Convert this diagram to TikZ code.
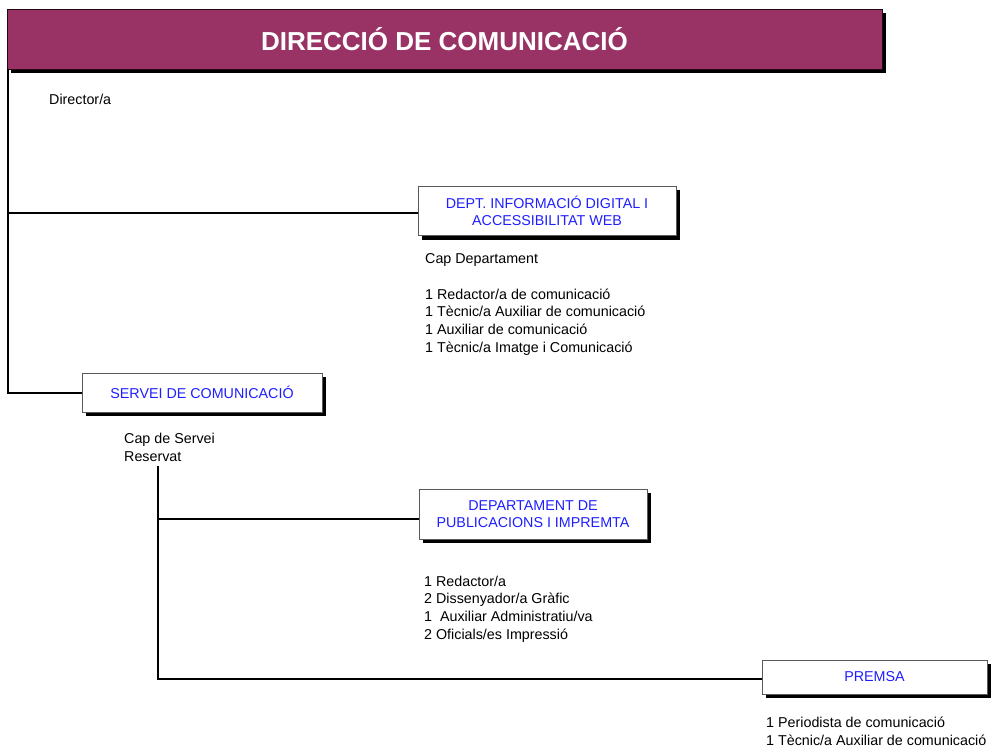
\documentclass[tikz,border=0pt]{standalone}
\usepackage{fontspec}
\setmainfont{Liberation Sans}
\usetikzlibrary{shadows}
\definecolor{plum}{RGB}{153,51,102}
\definecolor{lblue}{RGB}{30,30,255}
\begin{document}
\begin{tikzpicture}[x=1pt,y=-1pt,
  shad/.style={drop shadow={shadow xshift=4pt,shadow yshift=-4pt,opacity=1,fill=black}},
  unitbox/.style={draw=black!65,line width=1pt,fill=white,shad,text=lblue,align=center,
     font=\fontsize{14.3}{17.5}\selectfont,inner sep=0pt},
  lbl/.style={anchor=west,inner sep=0pt,align=left,font=\fontsize{14.3}{17.7}\selectfont},
  conn/.style={line width=2pt}]
\useasboundingbox (0,0) rectangle (992,751);
\node[draw=black!80!plum,line width=0.8pt,fill=plum,shad,minimum width=875pt,minimum height=60pt,inner sep=0pt,
  text=white,font=\fontsize{26}{30}\selectfont\bfseries] (title) at (444.5,39) {DIRECCIÓ DE COMUNICACIÓ};
\node[lbl] (dir) at (49,99) {Director/a};
\node[unitbox,minimum width=258pt,minimum height=49pt] (dept) at (547,211) {DEPT. INFORMACIÓ DIGITAL I\\ACCESSIBILITAT WEB};
\node[lbl] (deptcap) at (425,260) {Cap Departament};
\node[lbl,anchor=north west] (deptlist) at (425,288.5) {1 Redactor/a de comunicació\\1 Tècnic/a Auxiliar de comunicació\\1 Auxiliar de comunicació\\1 Tècnic/a Imatge i Comunicació};
\node[unitbox,minimum width=240pt,minimum height=39pt] (servei) at (202,392.5) {SERVEI DE COMUNICACIÓ};
\node[lbl,anchor=north west] (cap) at (124,433) {Cap de Servei\\Reservat};
\node[unitbox,minimum width=228pt,minimum height=50pt] (pub) at (533,514) {DEPARTAMENT DE\\PUBLICACIONS I IMPREMTA};
\node[lbl,anchor=north west] (publist) at (424,575.5) {1 Redactor/a\\2 Dissenyador/a Gràfic\\1\ \ Auxiliar Administratiu/va\\2 Oficials/es Impressió};
\node[unitbox,minimum width=225pt,minimum height=34pt] (premsa) at (874.5,677) {PREMSA};
\node[lbl,anchor=north west] (premsalist) at (766,717) {1 Periodista de comunicació\\1 Tècnic/a Auxiliar de comunicació};
\coordinate (t1) at ([xshift=1pt]title.south west);
\coordinate (t2) at (158,466);
\draw[conn] (t1) |- (servei.west);
\draw[conn] ([yshift=-2pt]dept.west) -- ([yshift=-2pt]dept.west -| t1);
\draw[conn] (t2) |- ([yshift=-2pt]premsa.west);
\draw[conn] ([yshift=-5pt]pub.west) -- ([yshift=-5pt]pub.west -| t2);
\end{tikzpicture}
\end{document}
